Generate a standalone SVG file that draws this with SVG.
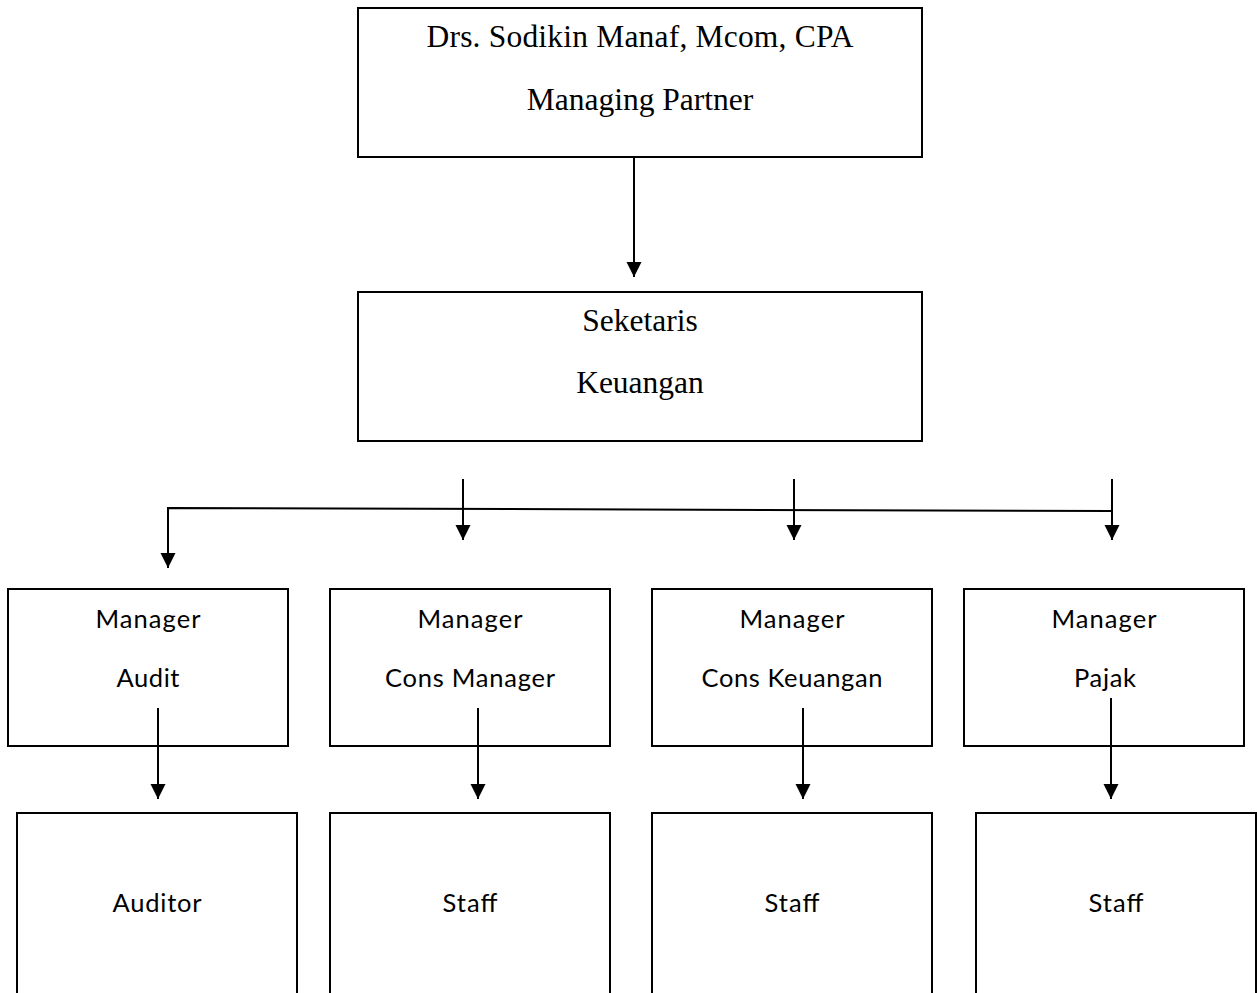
<svg xmlns="http://www.w3.org/2000/svg" width="1257" height="993" viewBox="0 0 1257 993">
<style>
  .box { fill: #ffffff; stroke: #000000; stroke-width: 2; }
  .serif { font-family: "Liberation Serif", "Times New Roman", serif; font-size: 31.5px; fill: #000000; text-anchor: middle; }
  .sans { font-family: Lato, "Open Sans", "Liberation Sans", sans-serif; font-size: 25.5px; fill: #000000; text-anchor: middle; }
  .conn { fill: none; stroke: #000000; stroke-width: 2; }
</style>
<defs>
  <marker id="arrow" markerUnits="userSpaceOnUse" markerWidth="16" markerHeight="16" refX="15" refY="7.5" orient="auto" viewBox="0 0 16 16">
    <path d="M0,0 L15,7.5 L0,15 z" fill="#000000"/>
  </marker>
</defs>
<rect width="1257" height="993" fill="#ffffff"/>

<g id="node-partner">
  <rect class="box" x="358" y="8" width="564" height="149"/>
  <text class="serif" x="640" y="47" textLength="427">Drs. Sodikin Manaf, Mcom, CPA</text>
  <text class="serif" x="640" y="110">Managing Partner</text>
</g>

<g id="node-seketaris">
  <rect class="box" x="358" y="292" width="564" height="149"/>
  <text class="serif" x="640" y="331">Seketaris</text>
  <text class="serif" x="640" y="393">Keuangan</text>
</g>

<g id="node-mgr-audit">
  <rect class="box" x="8" y="589" width="280" height="157"/>
  <text class="sans" x="148" y="628" textLength="105">Manager</text>
  <text class="sans" x="148" y="687" textLength="63">Audit</text>
</g>
<g id="node-mgr-cons-manager">
  <rect class="box" x="330" y="589" width="280" height="157"/>
  <text class="sans" x="470" y="628" textLength="105">Manager</text>
  <text class="sans" x="470" y="687" textLength="170">Cons Manager</text>
</g>
<g id="node-mgr-cons-keuangan">
  <rect class="box" x="652" y="589" width="280" height="157"/>
  <text class="sans" x="792" y="628" textLength="105">Manager</text>
  <text class="sans" x="792" y="687" textLength="181">Cons Keuangan</text>
</g>
<g id="node-mgr-pajak">
  <rect class="box" x="964" y="589" width="280" height="157"/>
  <text class="sans" x="1104" y="628" textLength="105">Manager</text>
  <text class="sans" x="1105" y="687" textLength="62">Pajak</text>
</g>

<g id="node-auditor">
  <rect class="box" x="17" y="813" width="280" height="200"/>
  <text class="sans" x="157" y="912" textLength="89">Auditor</text>
</g>
<g id="node-staff-1">
  <rect class="box" x="330" y="813" width="280" height="200"/>
  <text class="sans" x="470" y="912" textLength="55">Staff</text>
</g>
<g id="node-staff-2">
  <rect class="box" x="652" y="813" width="280" height="200"/>
  <text class="sans" x="792" y="912" textLength="55">Staff</text>
</g>
<g id="node-staff-3">
  <rect class="box" x="976" y="813" width="280" height="200"/>
  <text class="sans" x="1116" y="912" textLength="55">Staff</text>
</g>

<g id="connectors">
  <line class="conn" x1="634" y1="157" x2="634" y2="277" marker-end="url(#arrow)"/>
  <polyline class="conn" points="1112,511 168,508 168,568" marker-end="url(#arrow)"/>
  <line class="conn" x1="463" y1="479" x2="463" y2="540" marker-end="url(#arrow)"/>
  <line class="conn" x1="794" y1="479" x2="794" y2="540" marker-end="url(#arrow)"/>
  <line class="conn" x1="1112" y1="479" x2="1112" y2="540" marker-end="url(#arrow)"/>
  <line class="conn" x1="158" y1="708" x2="158" y2="799" marker-end="url(#arrow)"/>
  <line class="conn" x1="478" y1="708" x2="478" y2="799" marker-end="url(#arrow)"/>
  <line class="conn" x1="803" y1="708" x2="803" y2="799" marker-end="url(#arrow)"/>
  <line class="conn" x1="1111" y1="698" x2="1111" y2="799" marker-end="url(#arrow)"/>
</g>
</svg>
